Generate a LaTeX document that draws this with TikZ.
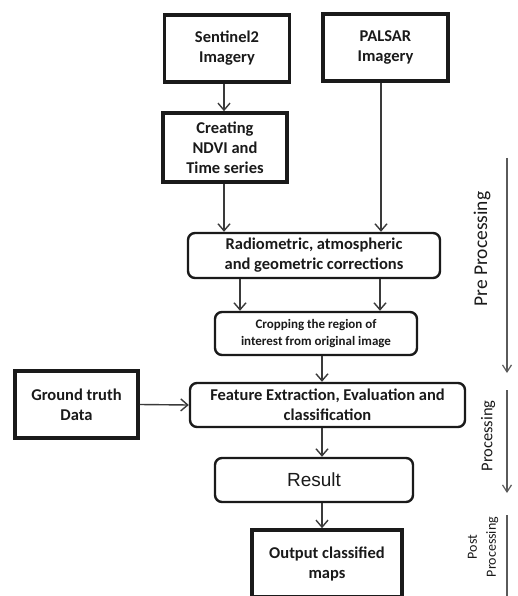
\documentclass[tikz,border=0pt]{standalone}
\usepackage{fontspec}
\setmainfont{Carlito}
\newfontfamily\arialfont{Liberation Sans}
\usetikzlibrary{arrows.meta}
\definecolor{boxcol}{HTML}{1A1A1A}
\definecolor{arrcol}{HTML}{3A3A3A}
\definecolor{sidecol}{HTML}{5A5A5A}
\begin{document}
\begin{tikzpicture}[x=1pt,y=-1pt,
  txt/.style={font=\fontsize{16.5}{20}\selectfont\bfseries, text=boxcol, align=center, inner sep=2pt},
  thickbox/.style={txt, draw=boxcol, line width=3.6pt},
  roundbox/.style={txt, draw=boxcol, line width=2.4pt, rounded corners=7pt},
  arr/.style={draw=arrcol, line width=1.4pt, -{Straight Barb[length=7pt,width=12pt,line width=1.4pt]}},
  sidearr/.style={draw=sidecol, line width=1.2pt, -{Straight Barb[length=7pt,width=9pt,line width=1.2pt]}},
  sidelbl/.style={text=boxcol, rotate=90, align=center, inner sep=0pt}
]
\useasboundingbox (0,0) rectangle (517,596);
% nodes
\node[thickbox, minimum width=125pt, minimum height=67pt] (sen) at (227,48.5) {Sentinel2\\Imagery};
\node[thickbox, minimum width=125pt, minimum height=67pt] (pal) at (385.5,47.5) {PALSAR\\Imagery};
\node[thickbox, minimum width=124pt, minimum height=69pt] (ndvi) at (225,147.5) {Creating\\NDVI and\\Time series};
\node[roundbox, minimum width=252pt, minimum height=45pt] (rad) at (314,255.5) {Radiometric, atmospheric\\and geometric corrections};
\node[roundbox, minimum width=202pt, minimum height=43pt, font=\fontsize{13}{16.5}\selectfont\bfseries] (crop) at (316,333.5) {Cropping the region of\\interest from original image};
\node[roundbox, minimum width=275pt, minimum height=44pt] (feat) at (327.5,405) {Feature Extraction, Evaluation and\\classification};
\node[thickbox, minimum width=123pt, minimum height=67pt] (gt) at (76.5,404.5) {Ground truth\\Data};
\node[roundbox, minimum width=198pt, minimum height=44pt, font=\arialfont\fontsize{19}{22}\selectfont] (res) at (314,480) {Result};
\node[thickbox, minimum width=150pt, minimum height=67pt] (out) at (327,563.5) {Output classified\\maps};
% axis coordinates
\coordinate (axis) at (322,0);
\coordinate (left) at (224,0);
\coordinate (palx) at (381,0);
\coordinate (ca) at (240,0);
\coordinate (cb) at (380,0);
% connectors
\draw[arr] (sen.south -| left) -- (ndvi.north -| left);
\draw[arr] (ndvi.south -| left) -- (rad.north -| left);
\draw[arr] (pal.south -| palx) -- (rad.north -| palx);
\draw[arr] (rad.south -| ca) -- (crop.north -| ca);
\draw[arr] (rad.south -| cb) -- (crop.north -| cb);
\draw[arr] (crop.south -| axis) -- (feat.north -| axis);
\draw[arr] (gt.east) -- (feat.west);
\draw[arr] (feat.south -| axis) -- (res.north -| axis);
\draw[arr] (res.south -| axis) -- (out.north -| axis);
% side stage markers
\coordinate (preA) at (507,158);
\coordinate (preB) at (507,373);
\coordinate (proA) at (507,390);
\coordinate (proB) at (507,493);
\coordinate (posA) at (507,515);
\coordinate (posB) at (507,597);
\draw[sidearr] (preA) -- (preB);
\draw[sidearr] (proA) -- (proB);
\draw[draw=sidecol, line width=1.2pt] (posA) -- (posB);
\node[sidelbl, font=\fontsize{19.5}{22}\selectfont] (prel) at (482,249) {Pre Processing};
\node[sidelbl, font=\fontsize{16.5}{20}\selectfont] (prol) at (488,436) {Processing};
\node[sidelbl, font=\fontsize{14}{19}\selectfont] (posl) at (483,547) {Post\\Processing};
\end{tikzpicture}
\end{document}
